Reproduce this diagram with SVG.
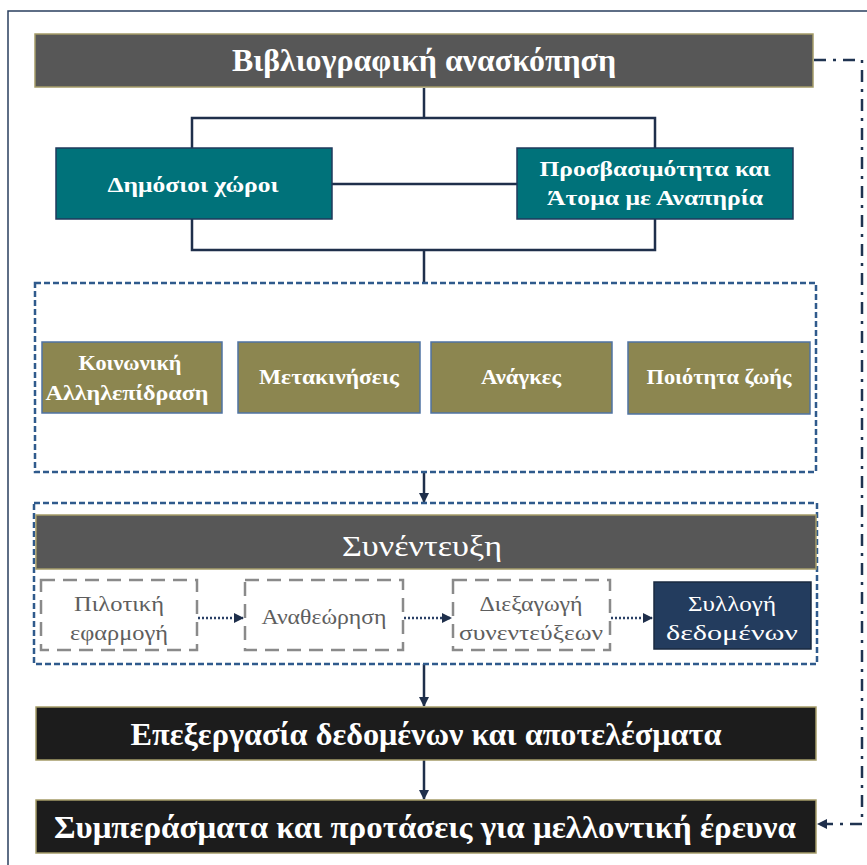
<svg xmlns="http://www.w3.org/2000/svg" width="867" height="865" viewBox="0 0 867 865">
<style>
text{font-family:"Liberation Serif","Times New Roman",serif;text-anchor:middle;}
.w{fill:#fff;font-weight:bold;}
.big{font-size:31px;}
.mid{font-size:22px;}
.sm{font-size:20px;}
.g{fill:#5e5e5e;font-size:21px;}
.wr{fill:#fff;font-size:21px;}
.hdr{fill:#575757;stroke:#a59c68;stroke-width:1.5;}
.blk{fill:#1c1c1c;stroke:#a59c68;stroke-width:1.5;}
.teal{fill:#00727a;stroke:#1f3a5c;stroke-width:1.5;}
.olive{fill:#8c8650;stroke:#4f73a3;stroke-width:1.5;}
.dbox{fill:none;stroke:#2f5a8c;stroke-width:2.5;stroke-dasharray:6 3;}
.gbox{fill:#fff;stroke:#8a8a8a;stroke-width:2.5;stroke-dasharray:14 8;}
.navy{fill:#233c5e;stroke:#1a2a40;stroke-width:1.5;}
.ln{fill:none;stroke:#1f2f4b;stroke-width:2.5;}
.dot{fill:none;stroke:#2a4066;stroke-width:2.5;stroke-dasharray:2 2;}
.dd{fill:none;stroke:#1f3350;stroke-width:2.5;stroke-dasharray:12 7 3 7;}
</style>
<defs>
<marker id="ah" viewBox="0 0 10 10" refX="9" refY="5" markerWidth="4" markerHeight="4" orient="auto" markerUnits="strokeWidth">
<path d="M0,0 L10,5 L0,10 z" fill="#1f2f4b"/>
</marker>
</defs>
<rect x="0" y="0" width="867" height="865" fill="#fff"/>
<path d="M8,865 V11 H867" fill="none" stroke="#2a3f5f" stroke-width="1.5"/>

<g id="connectors">
<path class="ln" d="M424,88 V118 M192,148 V118 H655 V148 M332,184 H517 M192,219 V250 H655 V219 M424,250 V283"/>
<path class="ln" d="M424,472 V502" marker-end="url(#ah)"/>
<path class="ln" d="M424,664 V706" marker-end="url(#ah)"/>
<path class="ln" d="M424,760 V799" marker-end="url(#ah)"/>
<path class="dot" d="M198,618 H243" marker-end="url(#ah)"/>
<path class="dot" d="M404,618 H451" marker-end="url(#ah)"/>
<path class="dot" d="M611,618 H652" marker-end="url(#ah)"/>
<path class="dd" d="M814,60 H862 V824 H818" marker-end="url(#ah)"/>
</g>

<g id="lit-review">
<rect class="hdr" x="35" y="34" width="778" height="53"/>
<text class="w big" x="424" y="71" textLength="384" lengthAdjust="spacingAndGlyphs">Βιβλιογραφική ανασκόπηση</text>
</g>
<g id="public-spaces">
<rect class="teal" x="56" y="148" width="276" height="71"/>
<text class="w mid" x="193" y="192" textLength="171" lengthAdjust="spacingAndGlyphs">Δημόσιοι χώροι</text>
</g>
<g id="accessibility">
<rect class="teal" x="517" y="148" width="276" height="71"/>
<text class="w mid" x="655" y="176" textLength="231" lengthAdjust="spacingAndGlyphs">Προσβασιμότητα και</text>
<text class="w mid" x="655" y="205" textLength="216" lengthAdjust="spacingAndGlyphs">Άτομα με Αναπηρία</text>
</g>

<g id="themes">
<rect class="dbox" x="35" y="283" width="781" height="189"/>
</g>
<g id="social">
<rect class="olive" x="42" y="342" width="180" height="71"/>
<text class="w sm" x="130" y="370" textLength="103" lengthAdjust="spacingAndGlyphs">Κοινωνική</text>
<text class="w sm" x="127" y="400" textLength="163" lengthAdjust="spacingAndGlyphs">Αλληλεπίδραση</text>
</g>
<g id="mobility">
<rect class="olive" x="238" y="342" width="182" height="71"/>
<text class="w sm" x="329" y="384" textLength="140" lengthAdjust="spacingAndGlyphs">Μετακινήσεις</text>
</g>
<g id="needs">
<rect class="olive" x="431" y="342" width="181" height="71"/>
<text class="w sm" x="521" y="384" textLength="80" lengthAdjust="spacingAndGlyphs">Ανάγκες</text>
</g>
<g id="quality">
<rect class="olive" x="628" y="342" width="182" height="72"/>
<text class="w sm" x="719" y="384" textLength="145" lengthAdjust="spacingAndGlyphs">Ποιότητα ζωής</text>
</g>

<g id="interview">
<rect class="dbox" x="34" y="503" width="783" height="161"/>
<rect class="hdr" x="36" y="515" width="780" height="54"/>
<text x="422" y="556" fill="#fff" font-size="30" textLength="160" lengthAdjust="spacingAndGlyphs">Συνέντευξη</text>
</g>
<g id="pilot">
<rect class="gbox" x="41" y="580" width="156" height="70"/>
<text class="g" x="119" y="611" textLength="90" lengthAdjust="spacingAndGlyphs">Πιλοτική</text>
<text class="g" x="119" y="640" textLength="98" lengthAdjust="spacingAndGlyphs">εφαρμογή</text>
</g>
<g id="review">
<rect class="gbox" x="245" y="580" width="158" height="70"/>
<text class="g" x="324" y="624" textLength="125" lengthAdjust="spacingAndGlyphs">Αναθεώρηση</text>
</g>
<g id="conduct">
<rect class="gbox" x="453" y="580" width="157" height="70"/>
<text class="g" x="531" y="611" textLength="103" lengthAdjust="spacingAndGlyphs">Διεξαγωγή</text>
<text class="g" x="531" y="640" textLength="144" lengthAdjust="spacingAndGlyphs">συνεντεύξεων</text>
</g>
<g id="collection">
<rect class="navy" x="654" y="582" width="157" height="67"/>
<text class="wr" x="732" y="611" textLength="88" lengthAdjust="spacingAndGlyphs">Συλλογή</text>
<text class="wr" x="732" y="640" textLength="132" lengthAdjust="spacingAndGlyphs">δεδομένων</text>
</g>

<g id="processing">
<rect class="blk" x="36" y="707" width="780" height="53"/>
<text class="w big" x="426" y="745" textLength="591" lengthAdjust="spacingAndGlyphs">Επεξεργασία δεδομένων και αποτελέσματα</text>
</g>
<g id="conclusions">
<rect class="blk" x="36" y="800" width="780" height="53"/>
<text class="w big" x="425" y="838" textLength="742" lengthAdjust="spacingAndGlyphs">Συμπεράσματα και προτάσεις για μελλοντική έρευνα</text>
</g>
</svg>
